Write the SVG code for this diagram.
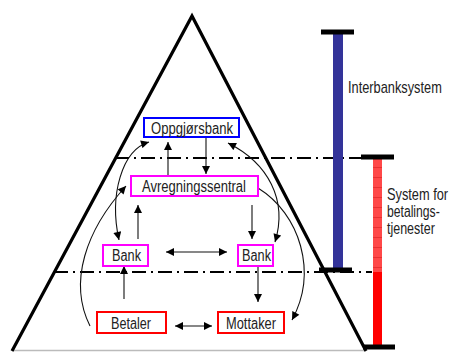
<svg xmlns="http://www.w3.org/2000/svg" width="451" height="352" viewBox="0 0 451 352">
<defs>
<style>
.lbl{font-family:"Liberation Sans",Arial,sans-serif;font-size:16px;fill:#222}
.box{fill:#fff;stroke-width:2}
.conn{fill:none;stroke:#111;stroke-width:1.1}
.dd{fill:none;stroke:#000;stroke-width:2;stroke-dasharray:14 5 2 5}
.cap{stroke:#000;stroke-width:5}
</style>
<marker id="ah" viewBox="0 0 10 10" refX="10" refY="5" markerWidth="9" markerHeight="8" markerUnits="userSpaceOnUse" orient="auto-start-reverse">
<path d="M0,0 L10,5 L0,10 z" fill="#000"/>
</marker>
<pattern id="hatch" width="10" height="10" patternUnits="userSpaceOnUse" y="157">
<rect width="10" height="10" fill="#ff4848"/>
<line x1="0" y1="0.5" x2="10" y2="0.5" stroke="#e83030" stroke-width="1"/>
</pattern>
</defs>

<g id="pyramid">
<line x1="12" y1="350.5" x2="366" y2="350.5" stroke="#bbb" stroke-width="1.5"/>
<polyline points="12,351 192,16 366,351" fill="none" stroke="#000" stroke-width="3.2" stroke-linejoin="miter"/>
</g>

<g id="levels">
<line class="dd" x1="115" y1="158" x2="362" y2="158"/>
<line class="dd" x1="54" y1="272" x2="372" y2="272"/>
</g>

<g id="interbank-bar">
<rect x="333" y="32" width="10" height="238" fill="#333399"/>
<line class="cap" x1="321" y1="32" x2="354" y2="32"/>
<line class="cap" x1="319" y1="270" x2="352" y2="270"/>
<text class="lbl" transform="translate(348,93) scale(0.8,1)">Interbanksystem</text>
</g>

<g id="payment-bar">
<rect x="373" y="157" width="9" height="115" fill="url(#hatch)"/>
<rect x="373" y="272" width="9" height="75" fill="#ff0000"/>
<line class="cap" x1="361" y1="157" x2="394" y2="157"/>
<line class="cap" x1="363" y1="347" x2="395" y2="347"/>
<text class="lbl" transform="translate(387,200) scale(0.8,1)">System for</text>
<text class="lbl" transform="translate(387,217) scale(0.76,1)">betalings-</text>
<text class="lbl" transform="translate(387,234) scale(0.78,1)">tjenester</text>
</g>

<g id="connectors">
<line class="conn" x1="168" y1="175" x2="168" y2="142" marker-end="url(#ah)"/>
<line class="conn" x1="206" y1="138" x2="206" y2="174" marker-end="url(#ah)"/>
<line class="conn" x1="252" y1="205" x2="252" y2="239" marker-end="url(#ah)"/>
<line class="conn" x1="138" y1="239" x2="138" y2="205" marker-end="url(#ah)"/>
<line class="conn" x1="166" y1="252" x2="227" y2="252" marker-start="url(#ah)" marker-end="url(#ah)"/>
<line class="conn" x1="124" y1="299" x2="124" y2="266" marker-end="url(#ah)"/>
<line class="conn" x1="258" y1="266" x2="258" y2="302" marker-end="url(#ah)"/>
<line class="conn" x1="175" y1="326" x2="212" y2="326" marker-start="url(#ah)" marker-end="url(#ah)"/>
<path class="conn" d="M149,142 C122,150 109,195 119,240" marker-start="url(#ah)" marker-end="url(#ah)"/>
<path class="conn" d="M90,326 C68,282 86,230 126,186" marker-end="url(#ah)"/>
<path class="conn" d="M228,143 C268,163 288,200 275,242" marker-start="url(#ah)" marker-end="url(#ah)"/>
<path class="conn" d="M258,188 C300,214 318,272 292,320" marker-end="url(#ah)"/>
</g>

<g id="oppgjorsbank">
<rect class="box" x="144" y="118" width="95" height="19" stroke="#0000ff"/>
<text class="lbl" x="151" y="134" textLength="82" lengthAdjust="spacingAndGlyphs">Oppgjørsbank</text>
</g>
<g id="avregningssentral">
<rect class="box" x="131" y="176" width="127" height="20" stroke="#ff00ff"/>
<text class="lbl" x="142" y="192" textLength="104" lengthAdjust="spacingAndGlyphs">Avregningssentral</text>
</g>
<g id="bank-left">
<rect class="box" x="103" y="245" width="45" height="21" stroke="#ff00ff"/>
<text class="lbl" x="112" y="261" textLength="29" lengthAdjust="spacingAndGlyphs">Bank</text>
</g>
<g id="bank-right">
<rect class="box" x="238" y="245" width="35" height="21" stroke="#ff00ff"/>
<text class="lbl" x="242" y="261" textLength="29" lengthAdjust="spacingAndGlyphs">Bank</text>
</g>
<g id="betaler">
<rect class="box" x="97" y="312" width="69" height="21" stroke="#ff0000"/>
<text class="lbl" x="111" y="329" textLength="40" lengthAdjust="spacingAndGlyphs">Betaler</text>
</g>
<g id="mottaker">
<rect class="box" x="218" y="312" width="66" height="21" stroke="#ff0000"/>
<text class="lbl" x="226" y="329" textLength="50" lengthAdjust="spacingAndGlyphs">Mottaker</text>
</g>
</svg>
